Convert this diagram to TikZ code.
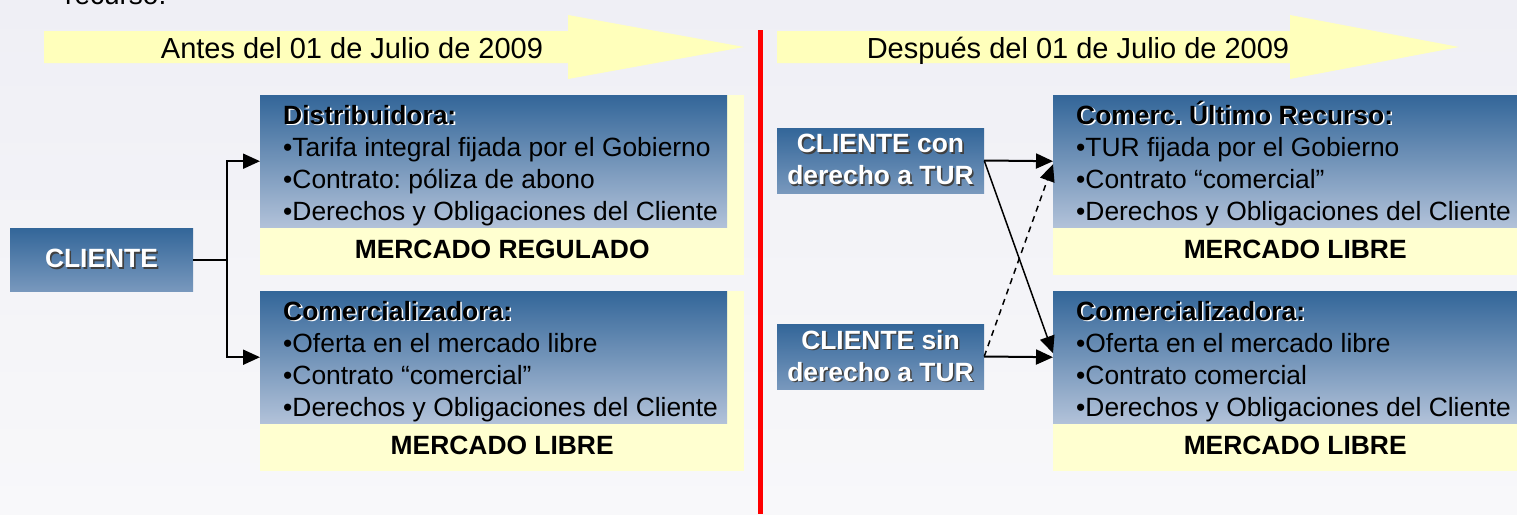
\documentclass[tikz,border=0pt]{standalone}
\usepackage{fontspec}
\setmainfont{Liberation Sans}
\usepackage{tikz}
\usepackage{xcolor}
\usetikzlibrary{arrows.meta}
\frenchspacing

\definecolor{page-top}{RGB}{239,239,245}
\definecolor{page-bottom}{RGB}{248,248,250}
\definecolor{arrow-yellow}{RGB}{255,255,187}
\definecolor{panel-yellow}{RGB}{255,255,208}
\definecolor{box-top}{RGB}{51,102,153}
\definecolor{box-bottom}{RGB}{178,194,217}
\definecolor{client-bottom}{RGB}{120,152,189}

\newcommand{\shadowtxt}[3]{\makebox[0pt][l]{\kern1.6pt\raisebox{-1.6pt}{\textcolor{#1}{#3}}}\textcolor{#2}{#3}}
\newcommand{\boxtitle}[1]{\textbf{\shadowtxt{white}{black}{#1}}}
\newcommand{\clienttxt}[1]{\shadowtxt{black!75}{white}{#1}}
\newcommand{\infolines}[4]{\begin{minipage}[t][132pt][t]{467pt}\raggedright\leftskip=23pt
    \rule{0pt}{29pt}\boxtitle{#1}\\#2\\#3\\#4\end{minipage}}

\tikzset{
    time-arrow/.style = {fill=arrow-yellow},
    time-label/.style = {font=\fontsize{29}{34}\selectfont, anchor=base, inner sep=0pt},
    market-panel/.style = {fill=panel-yellow, minimum width=484pt, minimum height=180pt, anchor=north west, inner sep=0pt},
    info-box/.style = {top color=box-top, bottom color=box-bottom, anchor=north west, inner sep=0pt, font=\fontsize{26.4}{32}\selectfont},
    market-label/.style = {anchor=base, inner sep=0pt, font=\fontsize{26.4}{32}\selectfont\bfseries},
    client-box/.style = {top color=box-top, bottom color=client-bottom, inner sep=0pt, align=center, font=\fontsize{26.4}{32}\selectfont\bfseries},
    link/.style = {line width=2pt, -{Triangle[length=17pt,width=15pt]}},
    cross-link/.style = {line width=1.5pt, -{Triangle[length=17pt,width=15pt]}},
}

\begin{document}
\begin{tikzpicture}[x=1pt, y=-1pt]
\useasboundingbox (0,0) rectangle (1517,514);
\clip (0,0) rectangle (1517,514);
\shade[top color=page-top, bottom color=page-bottom] (0,0) rectangle (1517,514);

\node[anchor=base west, inner sep=0pt, font=\fontsize{28}{34}\selectfont] (prev) at (65,5) {recurso.};

% time arrows
\foreach \xa/\xb/\xc in {44/568/744, 777/1290/1459}
    \fill[time-arrow] (\xa,31) -- (\xb,31) -- (\xb,15) -- (\xc,47) -- (\xb,79) -- (\xb,63) -- (\xa,63) -- cycle;
\node[time-label] (before) at (352,58) {Antes del 01 de Julio de 2009};
\node[time-label] (after) at (1078,58) {Después del 01 de Julio de 2009};

\draw[line width=5pt, red] (760,30) -- (760,514);

% before
\node[market-panel] (distpanel) at (260,95) {};
\node[info-box] (distbox) at (260,95) {\infolines{Distribuidora:}{•Tarifa integral fijada por el Gobierno}{•Contrato: póliza de abono}{•Derechos y Obligaciones del Cliente}};
\node[market-label] (distmkt) at ([yshift=17pt]distpanel.south) {MERCADO REGULADO};

\node[market-panel] (lcompanel) at (260,291) {};
\node[info-box] (lcombox) at (260,291) {\infolines{Comercializadora:}{•Oferta en el mercado libre}{•Contrato “comercial”}{•Derechos y Obligaciones del Cliente}};
\node[market-label] (lcommkt) at ([yshift=17pt]lcompanel.south) {MERCADO LIBRE};

\node[client-box, minimum width=183pt, minimum height=63pt] (cliente) at (101.5,259.5) {\clienttxt{CLIENTE}};

\coordinate (fork) at ([xshift=34pt]cliente.east);
\draw[line width=2pt] (cliente.east) -- (fork);
\draw[link] (fork) |- (distbox.west);
\draw[link] (fork) |- (lcombox.west);

% after
\node[market-panel] (curpanel) at (1053,95) {};
\node[info-box] (curbox) at (1053,95) {\infolines{Comerc. Último Recurso:}{•TUR fijada por el Gobierno}{•Contrato “comercial”}{•Derechos y Obligaciones del Cliente}};
\node[market-label] (curmkt) at ([yshift=17pt]curpanel.south) {MERCADO LIBRE};

\node[market-panel] (rcompanel) at (1053,291) {};
\node[info-box] (rcombox) at (1053,291) {\infolines{Comercializadora:}{•Oferta en el mercado libre}{•Contrato comercial}{•Derechos y Obligaciones del Cliente}};
\node[market-label] (rcommkt) at ([yshift=17pt]rcompanel.south) {MERCADO LIBRE};

\node[client-box, minimum width=207pt, minimum height=65pt] (contur) at (880.5,160.5) {\clienttxt{CLIENTE con}\\\clienttxt{derecho a TUR}};
\node[client-box, minimum width=207pt, minimum height=65pt] (sintur) at (880.5,356.5) {\clienttxt{CLIENTE sin}\\\clienttxt{derecho a TUR}};

\draw[link] (contur.east) -- (curbox.west);
\draw[link] (sintur.east) -- (rcombox.west);
\draw[cross-link] (contur.east) -- ([yshift=4pt]rcombox.west);
\draw[cross-link, dash pattern=on 6pt off 5pt] (sintur.east) -- ([yshift=-3pt]curbox.west);
\end{tikzpicture}
\end{document}
